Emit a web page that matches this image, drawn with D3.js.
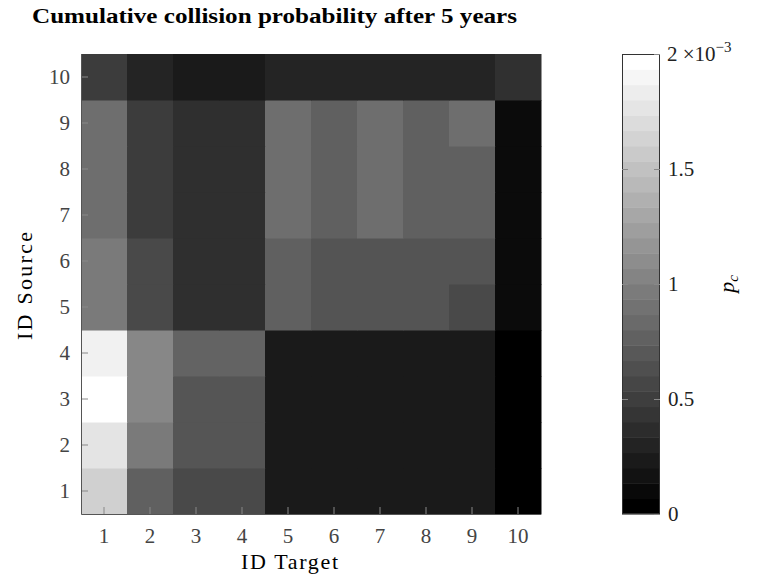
<!DOCTYPE html>
<html>
<head>
<meta charset="utf-8">
<script src="https://cdn.jsdelivr.net/npm/d3@7"></script>
<style>
  body { margin: 0; background: #fff; }
  svg text { font-family: "Liberation Serif", "DejaVu Serif", serif; }
</style>
</head>
<body>
<div id="chart"></div>
<script>
// categories
var targets = [1, 2, 3, 4, 5, 6, 7, 8, 9, 10];
var sources = [1, 2, 3, 4, 5, 6, 7, 8, 9, 10];

// collision probability (x 1e-3), one row per source, columns = target 1..10
var row1  = [1.63, 0.75, 0.57, 0.57, 0.20, 0.20, 0.20, 0.20, 0.20, 0.00];
var row2  = [1.79, 0.96, 0.67, 0.67, 0.20, 0.20, 0.20, 0.20, 0.20, 0.00];
var row3  = [2.00, 1.06, 0.67, 0.67, 0.20, 0.20, 0.20, 0.20, 0.20, 0.00];
var row4  = [1.89, 1.06, 0.78, 0.78, 0.20, 0.20, 0.20, 0.20, 0.20, 0.00];
var row5  = [0.96, 0.57, 0.37, 0.37, 0.75, 0.66, 0.66, 0.66, 0.57, 0.09];
var row6  = [0.96, 0.57, 0.37, 0.37, 0.75, 0.66, 0.66, 0.66, 0.66, 0.09];
var row7  = [0.86, 0.47, 0.37, 0.37, 0.86, 0.75, 0.86, 0.75, 0.75, 0.09];
var row8  = [0.86, 0.47, 0.37, 0.37, 0.86, 0.75, 0.86, 0.75, 0.75, 0.09];
var row9  = [0.86, 0.47, 0.37, 0.37, 0.86, 0.75, 0.86, 0.75, 0.86, 0.09];
var row10 = [0.47, 0.28, 0.20, 0.20, 0.28, 0.28, 0.28, 0.28, 0.28, 0.38];
var rows = [row1, row2, row3, row4, row5, row6, row7, row8, row9, row10];

// colorbar
var cbTicks = [0, 0.5, 1, 1.5, 2];
var cbLevels = 30;

var W = 758, H = 578;
var margin = {top: 54, left: 81};
var plotW = 460, plotH = 460;

var svg = d3.select("#chart").append("svg")
    .attr("width", W)
    .attr("height", H);

var g = svg.append("g")
    .attr("transform", "translate(" + margin.left + "," + margin.top + ")");

var x = d3.scaleBand().domain(targets).range([0, plotW]);
var y = d3.scaleBand().domain(sources.slice().reverse()).range([0, plotH]);
var color = d3.scaleLinear().domain([0, 2]).range(["#000000", "#ffffff"]).clamp(true);

// flatten cells
var cells = [];
rows.forEach(function(r, i) {
  r.forEach(function(v, j) {
    cells.push({src: sources[i], tgt: targets[j], v: v});
  });
});

g.selectAll("rect.cell")
  .data(cells)
  .enter().append("rect")
    .attr("class", "cell")
    .attr("x", function(d) { return x(d.tgt); })
    .attr("y", function(d) { return y(d.src); })
    .attr("width", x.bandwidth() + 0.5)
    .attr("height", y.bandwidth() + 0.5)
    .attr("fill", function(d) { return color(d.v); });

// axes (ticks inside)
var xAxis = g.append("g")
    .attr("transform", "translate(0," + plotH + ")")
    .call(d3.axisBottom(x).tickSizeInner(-7).tickSizeOuter(0).tickPadding(14));
var yAxis = g.append("g")
    .call(d3.axisLeft(y).tickSizeInner(-7).tickSizeOuter(0).tickPadding(11));

[xAxis, yAxis].forEach(function(a) {
  a.select(".domain").remove();
  a.selectAll(".tick line").attr("stroke", "#888").attr("stroke-width", 1);
  a.selectAll(".tick text").attr("fill", "#444").style("font-size", "21px");
});

g.append("path")
  .attr("d", "M0.5,0 V" + (plotH + 0.5) + " H" + plotW)
  .attr("fill", "none")
  .attr("stroke", "#555")
  .attr("stroke-width", 1);

// titles
svg.append("text")
  .attr("x", 32)
  .attr("y", 23)
  .attr("textLength", 485)
  .attr("lengthAdjust", "spacingAndGlyphs")
  .style("font-size", "20px")
  .style("font-weight", "bold")
  .text("Cumulative collision probability after 5 years");

svg.append("text")
  .attr("x", 241)
  .attr("y", 569)
  .attr("textLength", 97)
  .style("font-size", "22px")
  .text("ID Target");

svg.append("text")
  .attr("transform", "translate(32,340) rotate(-90)")
  .attr("textLength", 108)
  .style("font-size", "22px")
  .text("ID Source");

// colorbar
var cbX = 622, cbW = 38;
var cbY = d3.scaleLinear().domain([0, 2]).range([margin.top + plotH, margin.top]);
var bands = d3.range(cbLevels);
var bandH = plotH / cbLevels;

svg.selectAll("rect.band")
  .data(bands)
  .enter().append("rect")
    .attr("class", "band")
    .attr("x", cbX)
    .attr("y", function(k) { return cbY(2 * (k + 1) / cbLevels); })
    .attr("width", cbW)
    .attr("height", bandH + 0.5)
    .attr("fill", function(k) { return color(2 * k / (cbLevels - 1)); });

svg.append("rect")
  .attr("x", cbX + 0.5)
  .attr("y", margin.top + 0.5)
  .attr("width", cbW - 1)
  .attr("height", plotH - 1)
  .attr("fill", "none")
  .attr("stroke", "#333")
  .attr("stroke-width", 1);

var cbAxis = svg.append("g")
    .attr("transform", "translate(" + (cbX + cbW) + ",0)")
    .call(d3.axisRight(cbY).tickValues(cbTicks).tickSizeInner(-6).tickSizeOuter(0).tickPadding(8)
      .tickFormat(function(d) { return d === 2 ? "" : d3.format("")(d); }));
cbAxis.select(".domain").remove();
cbAxis.selectAll(".tick line").attr("stroke", "#888");
cbAxis.selectAll(".tick text").attr("fill", "#222").style("font-size", "21px");

// ticks on left edge of colorbar
svg.selectAll("line.cbl")
  .data(cbTicks.filter(function(d) { return d > 0 && d < 2; }))
  .enter().append("line")
    .attr("x1", cbX).attr("x2", cbX + 6)
    .attr("y1", function(d) { return cbY(d) + 0.5; })
    .attr("y2", function(d) { return cbY(d) + 0.5; })
    .attr("stroke", "#888");

// top label with exponent
var topLab = svg.append("text")
  .attr("x", cbX + cbW + 7)
  .attr("y", cbY(2) + 7)
  .attr("fill", "#222")
  .style("font-size", "21px");
topLab.append("tspan").text("2 ");
topLab.append("tspan").text("\u00d710");
topLab.append("tspan").attr("dy", -9).style("font-size", "15px").text("\u22123");

svg.append("text")
  .attr("transform", "translate(734," + (margin.top + plotH / 2) + ") rotate(-90)")
  .attr("text-anchor", "middle")
  .style("font-size", "22px")
  .style("font-style", "italic")
  .html("p<tspan dy='4' font-size='15px'>c</tspan>");
</script>
</body>
</html>
